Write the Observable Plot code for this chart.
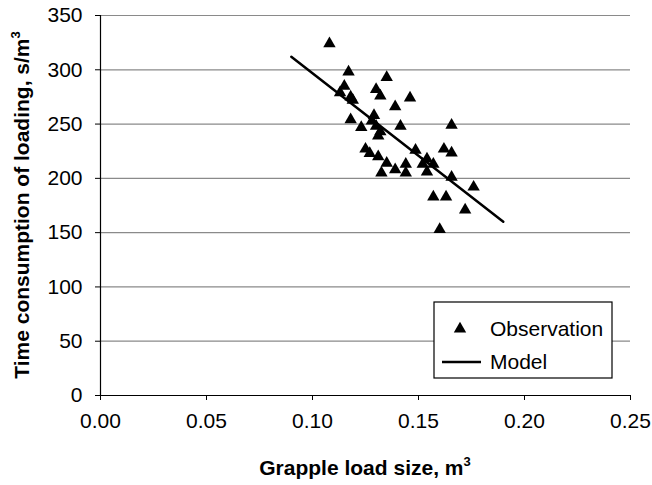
<!DOCTYPE html>
<html><head><meta charset="utf-8">
<script src="https://cdn.jsdelivr.net/npm/d3@7"></script>
<script src="https://cdn.jsdelivr.net/npm/@observablehq/plot@0.6"></script>
<style>
body{margin:0;background:#fff}
#chart{position:relative;width:652px;height:485px}
</style>
</head><body><div id="chart"></div>
<script>
// Observations: grapple load size (m3) vs time consumption of loading (s/m3)
const loadSize = [0.108,0.117,0.135,0.115,0.130,0.113,0.132,0.118,0.119,0.146,0.139,0.129,0.118,0.128,0.130,0.132,0.131,0.123,0.1415,0.125,0.127,0.131,0.135,0.1325,0.139,0.144,0.144,0.1656,0.1486,0.162,0.1656,0.154,0.152,0.157,0.154,0.1656,0.176,0.157,0.163,0.172,0.160];
const timeUse  = [324,298,293,285,282,279,276,275,272,274,266,258,254,253,248,243,239,247,248,227,223,220,214,205,208,213,205,249,226,227,223.5,218,213,213,206,201,192,183,183,171,153];
// Model line end points
const modelX = [0.09, 0.19];
const modelY = [312, 160];
// Ticks
const xTicks = [0, 0.05, 0.10, 0.15, 0.20, 0.25];
const yTicks = [0, 50, 100, 150, 200, 250, 300, 350];
// Texts
const xTitle = "Grapple load size, m";
const yTitle = "Time consumption of loading, s/m";
const sup = "3";
const legendLabels = ["Observation", "Model"];

const obs = loadSize.map((x, i) => ({x, y: timeUse[i]}));
const model = modelX.map((x, i) => ({x, y: modelY[i]}));

const W = 652, H = 485;
const font = "Liberation Sans, Arial, sans-serif";

const chart = Plot.plot({
  width: W, height: H,
  marginLeft: 100, marginRight: 22, marginTop: 15, marginBottom: 90,
  style: {fontFamily: font, fontSize: "21px", background: "white", color: "black"},
  x: {domain: [0, 0.25], ticks: xTicks},
  y: {domain: [0, 350], ticks: yTicks},
  marks: [
    Plot.gridY(yTicks.filter(d => d > 0), {stroke: "#8a8a8a", strokeOpacity: 1, strokeWidth: 1.2}),
    Plot.ruleX([0], {stroke: "black", strokeWidth: 1.2}),
    Plot.ruleY([0], {stroke: "black", strokeWidth: 1.2}),
    Plot.axisX({ticks: xTicks, tickFormat: d3.format(".2f"), tickSize: 5, tickPadding: 13, fontSize: 21, label: null, stroke: "black"}),
    Plot.axisY({ticks: yTicks, tickSize: 5, tickPadding: 13, fontSize: 21, label: null, stroke: "black"}),
    Plot.line(model, {x: "x", y: "y", stroke: "black", strokeWidth: 2.5}),
    Plot.dot(obs, {x: "x", y: "y", symbol: "triangle", r: 4.6, fill: "black", stroke: "none"})
  ]
});

document.getElementById("chart").appendChild(chart);
const svg = d3.select(chart);

// Axis titles with superscript
const xt = svg.append("text")
  .attr("x", (100 + W - 22) / 2).attr("y", 475)
  .attr("text-anchor", "middle")
  .style("font-family", font).style("font-size", "21px").style("font-weight", "bold")
  .text(xTitle);
xt.append("tspan").attr("dy", -9).style("font-size", "13px").text(sup);

const yt = svg.append("text")
  .attr("transform", `translate(29,${(15 + H - 90) / 2}) rotate(-90)`)
  .attr("text-anchor", "middle")
  .style("font-family", font).style("font-size", "21px").style("font-weight", "bold")
  .text(yTitle);
yt.append("tspan").attr("dy", -9).style("font-size", "13px").text(sup);

// Legend box
const lg = svg.append("g").attr("transform", "translate(434,302)");
lg.append("rect").attr("width", 178).attr("height", 76).attr("fill", "white").attr("stroke", "black").attr("stroke-width", 1.2);
lg.append("path").attr("d", d3.symbol(d3.symbolTriangle, Math.PI * 4.6 * 4.6)()).attr("transform", "translate(26,27)").attr("fill", "black");
lg.append("line").attr("x1", 8).attr("x2", 47).attr("y1", 60).attr("y2", 60).attr("stroke", "black").attr("stroke-width", 2.5);
lg.selectAll("text.leg").data(legendLabels).join("text")
  .attr("x", 56).attr("y", (d, i) => 34 + i * 33)
  .attr("text-anchor", "start")
  .style("font-family", font).style("font-size", "21px")
  .text(d => d);
</script>
</body></html>
